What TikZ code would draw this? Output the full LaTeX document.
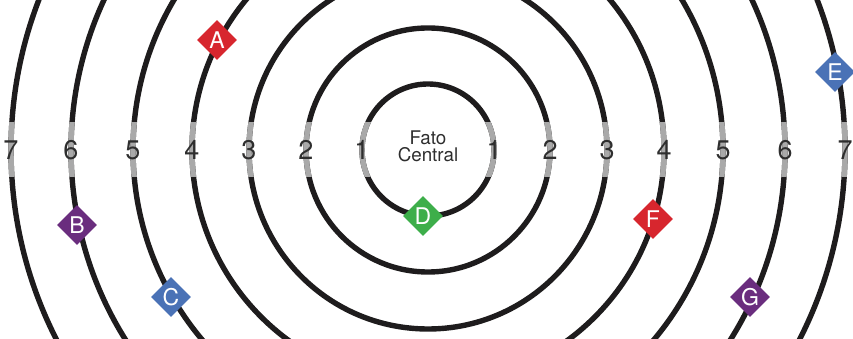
\documentclass[tikz,border=0pt]{standalone}
\usepackage{fontspec}
\setmainfont{TeX Gyre Heros}
\usetikzlibrary{shapes.geometric}
\definecolor{ringblack}{HTML}{1E1C1D}
\definecolor{ringgray}{HTML}{A9A9A9}
\definecolor{txtgray}{HTML}{2E2E2E}
\definecolor{mred}{HTML}{D7262E}
\definecolor{mblue}{HTML}{4A72B6}
\definecolor{mpurple}{HTML}{6A2D7E}
\definecolor{mgreen}{HTML}{3DAE4A}
\tikzset{
  ring/.style={draw=ringblack, line width=5.4pt},
  ringg/.style={draw=ringgray, line width=5.4pt},
  numlbl/.style={text=txtgray, font=\fontsize{27}{27}\selectfont, inner sep=0pt},
  centertxt/.style={text=txtgray, font=\fontsize{18.8}{18.8}\selectfont, inner sep=0pt, anchor=base},
  marker/.style={diamond, fill=#1, text=white, minimum width=40pt, minimum height=40pt,
    inner sep=0pt, font=\fontsize{23}{23}\selectfont}
}
\begin{document}
\begin{tikzpicture}[x=1pt,y=1pt]
\useasboundingbox (0,0) rectangle (853,339);
\clip (0,0) rectangle (853,339);
\coordinate (O) at (428,189);
\foreach \r in {66,122,179,236,295,357,417} {
  \draw[ring] (O) circle (\r pt);
}
\begin{scope}
  \clip (0,162) rectangle (853,216);
  \foreach \r in {66,122,179,236,295,357,417} {
    \draw[ringg] (O) circle (\r pt);
  }
\end{scope}
\foreach \r/\n in {66/1,122/2,179/3,236/4,295/5,357/6,417/7} {
  \node[numlbl] (L\n) at ([xshift=-\r pt]O) {\n};
  \node[numlbl] (R\n) at ([xshift=\r pt]O) {\n};
}
\node[centertxt] (fato) at (428,194.5) {Fato};
\node[centertxt] (central) at (428,177.8) {Central};
\node[marker=mred] (A) at (217,299) {A};
\node[marker=mpurple] (B) at (77,114) {B};
\node[marker=mblue] (C) at (171,42) {C};
\node[marker=mgreen] (D) at (423,123) {D};
\node[marker=mblue] (E) at (835,267) {E};
\node[marker=mred] (F) at (653,120) {F};
\node[marker=mpurple] (G) at (750,42) {G};
\end{tikzpicture}
\end{document}
